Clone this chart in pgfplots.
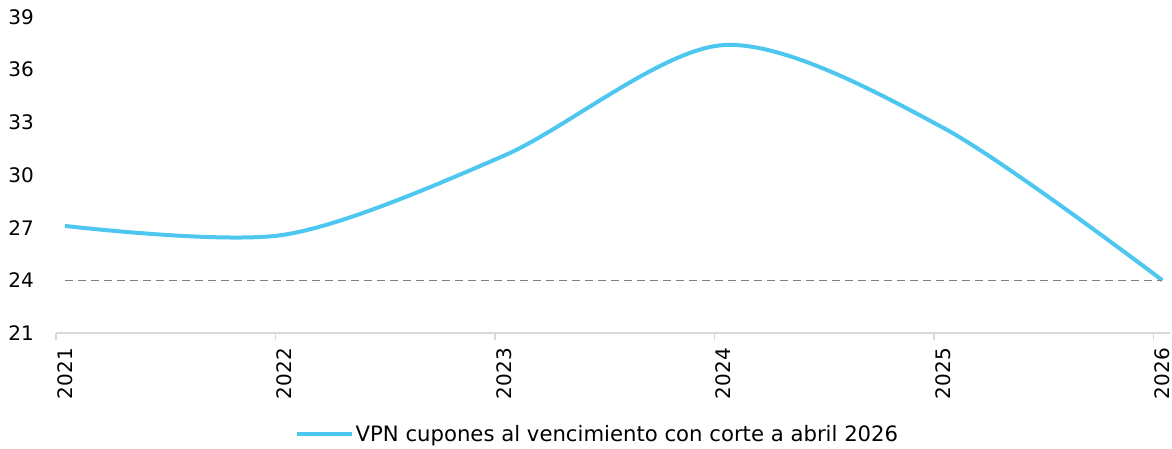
\documentclass[border=0pt]{standalone}
\usepackage{pgfplots}
\pgfplotsset{compat=1.18}
\usepackage{fontspec}
\setmainfont{DejaVu Sans}
\definecolor{vpn}{RGB}{78,199,240}
\definecolor{axgray}{RGB}{217,217,217}
\definecolor{dashgray}{RGB}{128,128,128}
\begin{document}
\begin{tikzpicture}
\begin{axis}[
  at={(0,0)}, anchor=south west,
  scale only axis, width=1114pt, height=316pt,
  xmin=2020.959, xmax=2026.035,
  ymin=21, ymax=39,
  ytick={21,24,...,39},
  xtick={2021,...,2026},
  xticklabels={2021,2022,2023,2024,2025,2026},
  major tick length=0pt,
  extra x ticks={2020.959,2021.959,2022.959,2023.959,2024.959,2025.959},
  extra x tick labels={},
  extra x tick style={major tick length=7pt, tick style={axgray, line width=1.5pt}, tick align=outside},
  axis y line*=left,
  y axis line style={draw=none},
  axis x line*=bottom,
  x axis line style={axgray, line width=1.5pt, -},
  /pgf/number format/assume math mode=true,
  /pgf/number format/1000 sep={},
  tick label style={font=\fontsize{20}{24}\selectfont, text=black},
  xticklabel style={rotate=90, anchor=east, inner sep=0pt, xshift=-15pt},
  yticklabel style={anchor=east, inner sep=0pt, xshift=-22pt},
  legend style={draw=none, at={(0.486,-0.32)}, anchor=center, font=\fontsize{21.2}{25}\selectfont, inner sep=0pt},
  legend image code/.code={\draw[#1, line width=4pt] (0pt,0pt) -- (55pt,0pt);},
  clip=false,
]
\addplot[vpn, line width=4pt, smooth] coordinates {
  (2021,27.1) (2022,26.6) (2023,31.1) (2024,37.4) (2025,32.7) (2026,24.0)
};
\addlegendentry{VPN cupones al vencimiento con corte a abril 2026}
\addplot[dashgray, line width=1.5pt, dash pattern=on 8pt off 5pt, forget plot] coordinates {
  (2021,24) (2026,24)
};
\end{axis}
\pgfresetboundingbox
\path (-56pt,-115pt) rectangle (1116pt,333pt);
\end{tikzpicture}
\end{document}
